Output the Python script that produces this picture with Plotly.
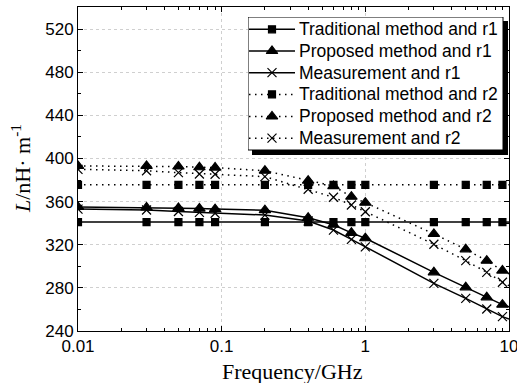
import plotly.graph_objects as go

# ---- data ----
freq = [0.01, 0.03, 0.05, 0.07, 0.09, 0.2, 0.4, 0.6, 0.8, 1, 3, 5, 7, 9]
freq_end = 10

trad_r1 = [341, 341, 341, 341, 341, 341, 341, 341, 341, 341, 341, 341, 341, 341]
prop_r1 = [355, 354.5, 354, 353.5, 353, 352, 345, 338.5, 331, 326, 294.4, 280.5, 271.2, 264.4]
meas_r1 = [353, 352.2, 350.8, 350, 349.2, 347.5, 342, 333.6, 325, 318, 284.2, 270.3, 260.4, 253.3]
trad_r2 = [375.5, 375.5, 375.5, 375.5, 375.5, 375.5, 375.5, 375.5, 375.5, 375.5, 375.5, 375.5, 375.5, 375.5]
prop_r2 = [393, 393, 392.5, 391.8, 391.5, 388.6, 379.4, 374.4, 364.5, 359, 330, 315.7, 305.2, 296]
meas_r2 = [389.9, 388.6, 386.8, 385.6, 385.3, 383.1, 371.4, 364, 356.8, 350.6, 320.4, 305.2, 294.4, 285.2]
end_vals = {"trad_r1": 341, "prop_r1": 262.5, "meas_r1": 251, "trad_r2": 375.5, "prop_r2": 293, "meas_r2": 282}

names = ["Traditional method and r1", "Proposed method and r1", "Measurement and r1",
         "Traditional method and r2", "Proposed method and r2", "Measurement and r2"]

y_ticks = [240, 280, 320, 360, 400, 440, 480, 520]
x_ticks = [0.01, 0.1, 1, 10]
x_tick_text = ["0.01", "0.1", "1", "10"]
x_minor = [round(m * d, 4) for d in (0.01, 0.1, 1) for m in range(2, 10)]

x_title = "Frequency/GHz"
y_title = "<i>L</i>/nH· m<sup>-1</sup>"

series = [
    ("trad_r1", trad_r1, "square", "solid"),
    ("prop_r1", prop_r1, "triangle-up", "solid"),
    ("meas_r1", meas_r1, "x-thin-open", "solid"),
    ("trad_r2", trad_r2, "square", "dot"),
    ("prop_r2", prop_r2, "triangle-up", "dot"),
    ("meas_r2", meas_r2, "x-thin-open", "dot"),
]
msize = {"square": 7, "triangle-up": 10, "x-thin-open": 9}
DOT = "1.5px,4.5px"
SERIF = "Liberation Serif, Times New Roman"
SANS = "Liberation Sans, Arial"

fig = go.Figure()
for (key, vals, sym, dash), name in zip(series, names):
    d = None if dash == "solid" else DOT
    lw = 1.5
    fig.add_trace(go.Scatter(
        x=freq, y=vals, mode="lines+markers", name=name, showlegend=False,
        line=dict(color="black", width=lw, dash=d),
        marker=dict(symbol=sym, size=msize[sym], color="black",
                    line=dict(color="black", width=1.2)),
    ))
    fig.add_trace(go.Scatter(
        x=[freq[-1], freq_end], y=[vals[-1], end_vals[key]], mode="lines",
        showlegend=False, hoverinfo="skip",
        line=dict(color="black", width=lw, dash=d),
    ))

# ---- custom legend drawn in its own small axes (pixel-like units) ----
LX0, LX1, LY0, LY1 = 248, 508, 17, 155  # pixel box incl. shadow
W, H = LX1 - LX0, LY1 - LY0
P_L, P_R, P_T, P_B = 78, 509, 7, 331
pw, ph = P_R - P_L, P_B - P_T

def ry(v):  # from top offset to axis units
    return H - v

# shadow
fig.add_trace(go.Scatter(x=[4, W, W, 4, 4], y=[ry(4), ry(4), ry(H), ry(H), ry(4)],
                         fill="toself", fillcolor="black", mode="lines",
                         line=dict(color="black", width=0), xaxis="x2", yaxis="y2",
                         showlegend=False, hoverinfo="skip"))
# box
fig.add_trace(go.Scatter(x=[0, W - 5, W - 5, 0, 0], y=[ry(0), ry(0), ry(H - 5), ry(H - 5), ry(0)],
                         fill="toself", fillcolor="white", mode="lines",
                         line=dict(color="black", width=1), xaxis="x2", yaxis="y2",
                         showlegend=False, hoverinfo="skip"))
row_y = [12.3, 34, 55.7, 77.4, 99.4, 121.2]
for (key, vals, sym, dash), name, yy in zip(series, names, row_y):
    d = None if dash == "solid" else DOT
    fig.add_trace(go.Scatter(x=[1, 47], y=[ry(yy), ry(yy)], mode="lines",
                             line=dict(color="black", width=1.5, dash=d),
                             xaxis="x2", yaxis="y2", showlegend=False, hoverinfo="skip"))
    fig.add_trace(go.Scatter(x=[24], y=[ry(yy)], mode="markers",
                             marker=dict(symbol=sym, size=msize[sym], color="black",
                                         line=dict(color="black", width=1.2)),
                             xaxis="x2", yaxis="y2", showlegend=False, hoverinfo="skip"))
    fig.add_annotation(x=49, y=ry(yy), xref="x2", yref="y2", text=name, showarrow=False,
                       xanchor="left", yanchor="middle",
                       font=dict(family=SANS, size=17.5, color="black"))

# axis titles as annotations (fixed placement)
fig.add_annotation(x=(292 - P_L) / pw, y=(P_B - 372) / ph, xref="paper", yref="paper",
                   text=x_title, showarrow=False, xanchor="center", yanchor="middle",
                   font=dict(family=SERIF, size=22, color="black"))
fig.add_annotation(x=(21 - P_L) / pw, y=(P_B - 168) / ph, xref="paper", yref="paper",
                   text=y_title, showarrow=False, xanchor="center", yanchor="middle",
                   textangle=-90, font=dict(family=SERIF, size=22, color="black"))

axis_common = dict(
    showline=True, linecolor="black", linewidth=1, mirror="ticks",
    ticks="inside", ticklen=5, tickcolor="black", tickwidth=1,
    showgrid=True, gridcolor="#cfcfcf", griddash="dot", gridwidth=1,
    zeroline=False, ticklabeloverflow="allow", automargin=False,
    tickfont=dict(family=SANS, size=17, color="black"),
)
XRANGE = [-2, 1]

fig.update_layout(
    xaxis=dict(
        type="log", range=XRANGE, tickmode="array", tickvals=x_ticks, ticktext=x_tick_text,
        **axis_common,
    ),
    xaxis3=dict(
        type="log", range=XRANGE, overlaying="x", anchor="y", side="bottom",
        tickmode="array", tickvals=x_minor, showticklabels=False,
        ticks="inside", ticklen=3, tickcolor="black", tickwidth=1,
        showline=True, linecolor="black", linewidth=1, mirror="ticks",
        showgrid=False, zeroline=False, fixedrange=True, automargin=False,
    ),
    yaxis=dict(
        range=[240, 540.4], tickmode="array", tickvals=y_ticks,
        minor=dict(ticks="inside", ticklen=3, tickcolor="black", dtick=20, showgrid=False),
        **axis_common,
    ),
    xaxis2=dict(domain=[(LX0 - P_L) / pw, (LX1 - P_L) / pw], range=[0, W], anchor="y2",
                visible=False, fixedrange=True),
    yaxis2=dict(domain=[(P_B - LY1) / ph, (P_B - LY0) / ph], range=[0, H], anchor="x2",
                visible=False, fixedrange=True),
    width=517, height=383,
    margin=dict(l=78, r=8, t=7, b=52, autoexpand=False),
    plot_bgcolor="white", paper_bgcolor="white",
    showlegend=False,
)

# invisible trace so the minor-tick axis is drawn
fig.add_trace(go.Scatter(x=[freq[0]], y=[trad_r1[0]], xaxis="x3", yaxis="y", mode="markers",
                         marker=dict(opacity=0), showlegend=False, hoverinfo="skip"))

fig.write_html("out.html")
